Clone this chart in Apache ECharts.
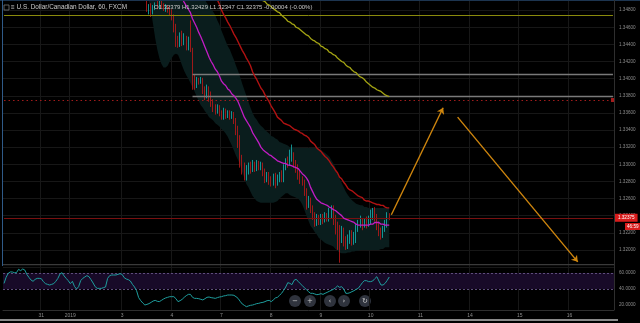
<!DOCTYPE html>
<html><head><meta charset="utf-8">
<script src="https://cdn.jsdelivr.net/npm/echarts@6/dist/echarts.min.js"></script>
<style>html,body{margin:0;padding:0;background:#000;}#c{width:640px;height:323px;}</style>
</head><body><div id="c"></div>
<script>
// ---------- data ----------
const dayLabels = ['28', '31', '2019', '3', '4', '7', '8', '9', '10', '11', '14', '15', '16'];
const daySlots  = [18, 14, 25, 24, 24, 24, 24, 24, 24, 24, 24, 24, 22];

const candleStart = 69;   // [open, close, low, high]
const candles = [
[1.3489,1.3480,1.3478,1.3492],[1.3480,1.3485,1.3475,1.3487],[1.3485,1.3478,1.3472,1.3488],[1.3478,1.3482,1.3475,1.3486],
[1.3482,1.3486,1.3480,1.3489],[1.3486,1.3484,1.3481,1.3491],[1.3484,1.3487,1.3481,1.3492],[1.3487,1.3485,1.3482,1.3493],
[1.3485,1.3481,1.3479,1.3488],[1.3481,1.3484,1.3478,1.3487],[1.3484,1.3480,1.3477,1.3486],[1.3480,1.3478,1.3474,1.3484],
[1.3478,1.3473,1.3468,1.3481],[1.3473,1.3459,1.3454,1.3475],[1.3459,1.3445,1.3437,1.3464],[1.3445,1.3440,1.3436,1.3450],
[1.3440,1.3450,1.3437,1.3454],[1.3450,1.3443,1.3438,1.3456],[1.3443,1.3447,1.3439,1.3453],[1.3447,1.3438,1.3433,1.3450],
[1.3438,1.3445,1.3433,1.3449],[1.3445,1.3433,1.3431,1.3468],[1.3433,1.3401,1.3387,1.3436],[1.3401,1.3393,1.3387,1.3405],
[1.3393,1.3398,1.3389,1.3402],[1.3398,1.3396,1.3393,1.3401],[1.3396,1.3398,1.3394,1.3402],[1.3398,1.3387,1.3382,1.3401],
[1.3387,1.3381,1.3375,1.3391],[1.3381,1.3389,1.3377,1.3393],[1.3389,1.3380,1.3373,1.3391],[1.3380,1.3373,1.3367,1.3385],
[1.3373,1.3367,1.3361,1.3376],[1.3367,1.3361,1.3358,1.3370],[1.3361,1.3366,1.3359,1.3370],[1.3366,1.3360,1.3356,1.3369],
[1.3360,1.3355,1.3352,1.3363],[1.3355,1.3361,1.3352,1.3366],[1.3361,1.3358,1.3353,1.3365],[1.3358,1.3360,1.3354,1.3363],
[1.3360,1.3356,1.3352,1.3363],[1.3356,1.3359,1.3353,1.3362],[1.3359,1.3352,1.3347,1.3361],[1.3352,1.3340,1.3334,1.3354],
[1.3340,1.3328,1.3319,1.3345],[1.3328,1.3305,1.3296,1.3334],[1.3305,1.3293,1.3288,1.3311],[1.3293,1.3284,1.3281,1.3302],
[1.3284,1.3291,1.3281,1.3299],[1.3291,1.3296,1.3288,1.3302],[1.3296,1.3293,1.3289,1.3303],[1.3293,1.3298,1.3291,1.3305],
[1.3298,1.3296,1.3291,1.3303],[1.3296,1.3300,1.3292,1.3305],[1.3300,1.3297,1.3293,1.3304],[1.3297,1.3299,1.3293,1.3303],
[1.3299,1.3291,1.3286,1.3302],[1.3291,1.3284,1.3278,1.3295],[1.3284,1.3288,1.3279,1.3291],[1.3288,1.3282,1.3276,1.3291],
[1.3282,1.3279,1.3274,1.3286],[1.3279,1.3285,1.3275,1.3289],[1.3285,1.3279,1.3272,1.3290],[1.3279,1.3284,1.3275,1.3288],
[1.3284,1.3288,1.3279,1.3291],[1.3288,1.3284,1.3279,1.3293],[1.3284,1.3296,1.3279,1.3300],[1.3296,1.3303,1.3293,1.3307],
[1.3303,1.3302,1.3296,1.3309],[1.3302,1.3307,1.3298,1.3317],[1.3307,1.3311,1.3303,1.3323],[1.3311,1.3299,1.3296,1.3314],
[1.3299,1.3296,1.3290,1.3305],[1.3296,1.3288,1.3282,1.3300],[1.3288,1.3282,1.3277,1.3293],[1.3282,1.3278,1.3275,1.3286],
[1.3278,1.3268,1.3263,1.3282],[1.3268,1.3252,1.3247,1.3272],[1.3252,1.3258,1.3249,1.3263],[1.3258,1.3249,1.3243,1.3261],
[1.3249,1.3241,1.3235,1.3252],[1.3241,1.3233,1.3227,1.3244],[1.3233,1.3237,1.3228,1.3242],[1.3237,1.3234,1.3229,1.3241],
[1.3234,1.3239,1.3229,1.3242],[1.3239,1.3235,1.3230,1.3242],[1.3235,1.3240,1.3232,1.3244],[1.3240,1.3237,1.3233,1.3243],
[1.3237,1.3243,1.3233,1.3249],[1.3243,1.3249,1.3237,1.3252],[1.3249,1.3235,1.3229,1.3252],[1.3235,1.3226,1.3218,1.3241],
[1.3226,1.3218,1.3200,1.3233],[1.3218,1.3214,1.3185,1.3229],[1.3214,1.3223,1.3208,1.3228],[1.3223,1.3212,1.3204,1.3226],
[1.3212,1.3206,1.3200,1.3216],[1.3206,1.3212,1.3201,1.3218],[1.3212,1.3219,1.3207,1.3223],[1.3219,1.3209,1.3205,1.3223],
[1.3209,1.3216,1.3206,1.3221],[1.3216,1.3226,1.3208,1.3230],[1.3226,1.3229,1.3221,1.3235],[1.3229,1.3233,1.3226,1.3240],
[1.3233,1.3228,1.3223,1.3237],[1.3228,1.3233,1.3226,1.3237],[1.3233,1.3229,1.3225,1.3239],[1.3229,1.3234,1.3227,1.3240],
[1.3234,1.3240,1.3230,1.3247],[1.3240,1.3244,1.3235,1.3249],[1.3244,1.3237,1.3233,1.3250],[1.3237,1.3228,1.3223,1.3242],
[1.3228,1.3221,1.3216,1.3233],[1.3221,1.3218,1.3212,1.3226],[1.3218,1.3223,1.3214,1.3228],[1.3223,1.3230,1.3221,1.3235],
[1.3230,1.3240,1.3226,1.3244],[1.32379,1.32375,1.32347,1.32429]
];

const maFastStart = 85;
const maFast = [1.3499,1.3494,1.3489,1.3485,1.3481,1.3477,1.3470,1.3465,1.3460,1.3454,1.3449,1.3443,1.3437,1.3431,1.3425,
1.3420,1.3416,1.3411,1.3408,1.3403,1.3397,1.3394,1.3392,1.3388,1.3386,1.3382,1.3380,1.3377,1.3373,1.3367,1.3361,1.3355,
1.3351,1.3347,1.3343,1.3337,1.3333,1.3329,1.3325,1.3320,1.3317,1.3315,1.3313,1.3311,1.3310,1.3308,1.3306,1.3304,1.3303,
1.3302,1.3301,1.3301,1.3299,1.3299,1.3298,1.3297,1.3296,1.3295,1.3292,1.3289,1.3287,1.3284,1.3280,1.3273,1.3268,1.3263,
1.3259,1.3257,1.3255,1.3254,1.3253,1.3252,1.3250,1.3249,1.3247,1.3246,1.3244,1.3242,1.3240,1.3237,1.3236,1.3235,1.3234,
1.3233,1.3232,1.3230,1.3229,1.3229,1.3229,1.3229,1.3229,1.3229,1.3230,1.3230,1.3232,1.3232,1.3232,1.3230,1.3230,1.3229,
1.3229,1.3229];

const maMidStart = 102;
const maMid = [1.3497,1.3492,1.3487,1.3480,1.3475,1.3471,1.3466,1.3462,1.3457,1.3452,1.3448,1.3443,1.3438,1.3433,1.3429,
1.3424,1.3420,1.3415,1.3408,1.3403,1.3399,1.3394,1.3389,1.3386,1.3381,1.3377,1.3373,1.3368,1.3364,1.3360,1.3355,1.3353,
1.3351,1.3348,1.3347,1.3346,1.3345,1.3343,1.3341,1.3340,1.3339,1.3337,1.3336,1.3334,1.3333,1.3331,1.3327,1.3325,1.3323,
1.3319,1.3317,1.3315,1.3312,1.3309,1.3307,1.3304,1.3300,1.3297,1.3293,1.3290,1.3285,1.3283,1.3279,1.3276,1.3272,1.3270,
1.3269,1.3267,1.3265,1.3263,1.3262,1.3261,1.3258,1.3257,1.3257,1.3256,1.3255,1.3254,1.3253,1.3253,1.3252,1.3252,1.3250,
1.3249,1.3249];

const maSlowStart = 124;
const maSlow = [1.3493,1.3491,1.3490,1.3487,1.3486,1.3484,1.3482,1.3480,1.3478,1.3477,1.3474,1.3472,1.3470,1.3467,1.3466,
1.3464,1.3463,1.3460,1.3459,1.3457,1.3455,1.3453,1.3451,1.3450,1.3447,1.3445,1.3444,1.3442,1.3441,1.3438,1.3437,1.3435,
1.3434,1.3431,1.3430,1.3428,1.3427,1.3424,1.3422,1.3420,1.3419,1.3416,1.3414,1.3413,1.3410,1.3408,1.3407,1.3404,1.3402,
1.3401,1.3399,1.3396,1.3394,1.3392,1.3390,1.3389,1.3387,1.3386,1.3385,1.3383,1.3381,1.3380,1.3379];

const bandStart = 70;
const bandUpper = [1.3539,1.3539,1.3539,1.3538,1.3536,1.3535,1.3534,1.3533,1.3532,1.3531,1.3529,1.3528,1.3527,1.3527,
1.3527,1.3526,1.3525,1.3524,1.3521,1.3519,1.3515,1.3512,1.3508,1.3506,1.3504,1.3500,1.3497,1.3492,1.3488,1.3485,1.3481,
1.3478,1.3474,1.3468,1.3463,1.3456,1.3450,1.3444,1.3438,1.3434,1.3428,1.3422,1.3415,1.3409,1.3402,1.3394,1.3387,1.3380,
1.3373,1.3366,1.3360,1.3355,1.3352,1.3348,1.3345,1.3343,1.3340,1.3338,1.3336,1.3333,1.3332,1.3330,1.3329,1.3326,1.3325,
1.3324,1.3323,1.3322,1.3320,1.3320,1.3320,1.3319,1.3319,1.3319,1.3319,1.3319,1.3319,1.3319,1.3319,1.3319,1.3319,1.3319,
1.3318,1.3317,1.3315,1.3313,1.3311,1.3309,1.3305,1.3301,1.3296,1.3290,1.3284,1.3278,1.3273,1.3268,1.3264,1.3261,1.3258,
1.3256,1.3254,1.3253,1.3252,1.3252,1.3250,1.3250,1.3249,1.3249,1.3249,1.3249,1.3249,1.3249,1.3249,1.3249,1.3249,1.3249,1.3249];
const bandLower = [1.3492,1.3478,1.3463,1.3447,1.3434,1.3424,1.3417,1.3413,1.3413,1.3415,1.3420,1.3424,1.3428,1.3429,
1.3428,1.3422,1.3415,1.3409,1.3404,1.3400,1.3395,1.3390,1.3385,1.3379,1.3374,1.3369,1.3366,1.3362,1.3359,1.3355,1.3353,
1.3351,1.3348,1.3346,1.3344,1.3341,1.3339,1.3336,1.3332,1.3327,1.3322,1.3316,1.3310,1.3305,1.3299,1.3291,1.3284,1.3277,
1.3273,1.3268,1.3263,1.3260,1.3257,1.3256,1.3255,1.3255,1.3255,1.3255,1.3255,1.3255,1.3255,1.3256,1.3257,1.3260,1.3262,
1.3264,1.3266,1.3266,1.3264,1.3263,1.3262,1.3261,1.3260,1.3257,1.3253,1.3247,1.3240,1.3234,1.3228,1.3225,1.3221,1.3218,
1.3214,1.3212,1.3210,1.3208,1.3207,1.3206,1.3205,1.3204,1.3201,1.3199,1.3197,1.3196,1.3196,1.3196,1.3197,1.3197,1.3198,
1.3198,1.3199,1.3199,1.3200,1.3200,1.3200,1.3200,1.3200,1.3200,1.3200,1.3200,1.3200,1.3200,1.3201,1.3201,1.3203,1.3203,1.3203];

const rsi = [47,54.6,59.6,61.3,61.3,60.4,60.4,64.6,62.9,65, 63.8,58.3,54.6,51.3,49.6,52,53.3,53.3,52.9,49.2,
46.7,45.8,45,45.8,46.7,49.6,53.3,58.8,60.4,56.3, 53.3,50.4,46.7,49.6,43.3,40,42.9,50.4,53.3,55,
56.7,55.4,51.7,47.5,42.9,40.8,40.8,40.8,41.7,42.5, 53.3,56.7,57.5,57.5,57.5,58.3,59.2,58.3,54.2,52.5,
51.7,50,45.8,42.5,37.9,29.2,25.4,22.5,20,20.8, 21.7,23.3,25,25.8,24.6,24.2,25.8,27.5,28.8,29.6,
30.4,30.4,30.4,27.9,24.2,25.4,27.1,29.6,31.7,33.3, 33.3,29.6,28.3,28.3,27.9,27.1,26.3,27.9,29.6,30,
29.2,28.8,28.3,29.2,30,30.4,31.3,31.7,32.5,32.5, 32.5,32.1,30.4,28.3,24.6,21.3,19.6,17.9,18.8,19.6,
20,20.8,21.7,22.1,22.9,23.3,24.2,25.4,25.8,24.2, 26.3,28.8,29.6,32.1,34.6,38.3,42.5,47.9,47.1,45.4,
50.8,52.1,49.6,46.7,44.2,41.7,39.2,36.7,34.6,34.6, 33.8,32.9,33.3,34.2,33.3,34.6,35.8,37.1,38.3,39.6,
41.3,43.8,42.1,42.9,40,34.6,34.6,35.4,36.7,37.9, 39.6,40.8,44.2,47.9,50.4,50.4,49.2,49.2,50,52.9,
55.4,50,45,45,47.1,50.8,55];

const rsiBand = [40, 60];
const rsiTicks = [20, 40, 60];
const yellowLevel = 1.3474;
const zoneTop = 1.3405, zoneBottom = 1.3380, zoneStart = 91;
const redLevel = 1.3375;
const arrowUp = [[187, 1.3241], [212, 1.3366]];
const arrowDown = [[219, 1.3355], [277, 1.3186]];
const title = 'U.S. Dollar/Canadian Dollar, 60, FXCM';
const countdown = '46:59';

// ---------- build ----------
const categories = [];
const dayStarts = new Set();
dayLabels.forEach((d, k) => {
  if (k > 0) dayStarts.add(categories.length);
  for (let h = 0; h < daySlots[k]; h++) categories.push(d + '|' + h);
});
const lastIdx = categories.length - 1;
const pad = (start, arr, empty) => Array(start).fill(empty).concat(arr);
const candleData = pad(candleStart, candles, ['-', '-', '-', '-']);
const lastC = candles[candles.length - 1];
const lastPrice = lastC[1];
const chg = lastC[1] - lastC[0];
const ohlcText = 'O' + lastC[0].toFixed(5) + ' H' + lastC[3].toFixed(5) + ' L' + lastC[2].toFixed(5) +
  ' C' + lastC[1].toFixed(5) + ' ' + chg.toFixed(5) + ' (' + (chg / lastC[0] * 100).toFixed(2) + '%)';

const FONT = 'Liberation Sans';
const gridColor = '#171717';
const orange = '#cf860e';
const dayInterval = (idx) => dayStarts.has(idx);
const hLine = (v, from, style, endExtra) =>
  [{ coord: [from, v], lineStyle: style }, Object.assign({ coord: [lastIdx, v] }, endExtra || {})];

const chart = echarts.init(document.getElementById('c'), null, { renderer: 'canvas' });
const btn = (x, txt) => ({
  type: 'group', x: x, y: 301, children: [
    { type: 'circle', shape: { cx: 0, cy: 0, r: 6 }, style: { fill: 'rgba(52,56,68,0.9)' } },
    { type: 'text', style: { text: txt, x: 0, y: 0, fill: '#d0d0d0', font: '7px DejaVu Sans', align: 'center', verticalAlign: 'middle' } }
  ]
});

chart.setOption({
  backgroundColor: '#000',
  animation: false,
  grid: [
    { left: 3, right: 26, top: -7, height: 274, outerBoundsMode: 'none', containLabel: false },
    { left: 3, right: 26, top: 265, height: 45, outerBoundsMode: 'none', containLabel: false }
  ],
  xAxis: [
    { type: 'category', gridIndex: 0, data: categories, boundaryGap: true,
      axisLine: { show: false }, axisTick: { show: false }, axisLabel: { show: false },
      splitLine: { show: true, interval: dayInterval, lineStyle: { color: gridColor, width: 1 } } },
    { type: 'category', gridIndex: 1, data: categories, boundaryGap: true,
      axisLine: { show: true, lineStyle: { color: '#2e2e2e' } }, axisTick: { show: false },
      axisLabel: { show: true, interval: dayInterval, color: '#8c8c8c', fontSize: 5, fontFamily: FONT, margin: 3,
        formatter: (v) => v.split('|')[0] },
      splitLine: { show: true, interval: dayInterval, lineStyle: { color: gridColor, width: 1 } } }
  ],
  yAxis: [
    { type: 'value', gridIndex: 0, position: 'right', min: 1.318, max: 1.350, interval: 0.002,
      axisLine: { show: false }, axisTick: { show: false },
      axisLabel: { color: '#8c8c8c', fontSize: 4.6, fontFamily: FONT, margin: 5, showMinLabel: false, showMaxLabel: false,
        formatter: (v) => v.toFixed(5) },
      splitLine: { lineStyle: { color: gridColor, width: 1 } } },
    { type: 'value', gridIndex: 1, position: 'right', min: 13.75, max: 70,
      axisLine: { show: false }, axisTick: { show: false },
      axisLabel: { color: '#8c8c8c', fontSize: 4.6, fontFamily: FONT, margin: 5, customValues: rsiTicks,
        formatter: (v) => v.toFixed(4) },
      splitLine: { show: false } }
  ],
  series: [
    { name: 'bbBase', type: 'line', xAxisIndex: 0, yAxisIndex: 0, stack: 'bb', symbol: 'none', silent: true,
      data: pad(bandStart, bandLower, '-'), lineStyle: { opacity: 0 }, z: 1 },
    { name: 'bbFill', type: 'line', xAxisIndex: 0, yAxisIndex: 0, stack: 'bb', symbol: 'none', silent: true,
      data: pad(bandStart, bandUpper.map((u, k) => +(u - bandLower[k]).toFixed(4)), '-'),
      lineStyle: { opacity: 0 }, areaStyle: { color: '#0a1d1d', opacity: 1 }, z: 1 },
    { name: 'price', type: 'candlestick', xAxisIndex: 0, yAxisIndex: 0, data: candleData, clip: true,
      barMaxWidth: 2, z: 4,
      itemStyle: { color: '#17b4b4', color0: '#c41818', borderColor: '#17b4b4', borderColor0: '#c41818', borderWidth: 0.8 } },
    { name: 'levels', type: 'line', xAxisIndex: 0, yAxisIndex: 0, data: [], z: 3,
      markLine: {
        silent: true, symbol: ['none', 'none'], animation: false, precision: 6,
        label: { show: false },
        data: [
          hLine(yellowLevel, 0, { color: '#8a8a0c', width: 1, type: 'solid' }),
          hLine(zoneTop, zoneStart, { color: '#7a7a7a', width: 1.4, type: 'solid' }),
          hLine(zoneBottom, zoneStart, { color: '#7a7a7a', width: 1.4, type: 'solid' }),
          hLine(redLevel, 0, { color: '#a41c1c', width: 1, type: [1.5, 3] },
            { symbol: 'rect', symbolSize: 4, itemStyle: { color: '#d02a2a' } }),
          hLine(lastPrice, 0, { color: '#781010', width: 1, type: 'solid' },
            { label: { show: true, position: 'end', distance: 2, formatter: () => lastPrice.toFixed(5), color: '#fff',
              backgroundColor: '#d81c1c', fontSize: 4.6, fontFamily: FONT, padding: [2, 3, 1, 3] } }),
          [{ coord: arrowUp[0], lineStyle: { color: orange, width: 1.4, type: 'solid' } },
           { coord: arrowUp[1], symbol: 'arrow', symbolSize: 6, itemStyle: { color: orange } }],
          [{ coord: arrowDown[0], lineStyle: { color: orange, width: 1.4, type: 'solid' } },
           { coord: arrowDown[1], symbol: 'arrow', symbolSize: 6, itemStyle: { color: orange } }]
        ]
      } },
    { name: 'maFast', type: 'line', xAxisIndex: 0, yAxisIndex: 0, symbol: 'none', data: pad(maFastStart, maFast, '-'),
      lineStyle: { color: '#c21cc4', width: 1.3 }, z: 5 },
    { name: 'maMid', type: 'line', xAxisIndex: 0, yAxisIndex: 0, symbol: 'none', data: pad(maMidStart, maMid, '-'),
      lineStyle: { color: '#b01212', width: 1.4 }, z: 5 },
    { name: 'maSlow', type: 'line', xAxisIndex: 0, yAxisIndex: 0, symbol: 'none', data: pad(maSlowStart, maSlow, '-'),
      lineStyle: { color: '#a3a313', width: 1.3 }, z: 5 },
    { name: 'rsi', type: 'line', xAxisIndex: 1, yAxisIndex: 1, symbol: 'none', data: rsi,
      lineStyle: { color: '#1e9e9e', width: 1 }, z: 5,
      markArea: { silent: true, itemStyle: { color: '#180a28' }, data: [[{ yAxis: rsiBand[0] }, { yAxis: rsiBand[1] }]] },
      markLine: { silent: true, symbol: ['none', 'none'], label: { show: false },
        lineStyle: { color: '#5e4d7c', width: 1, type: [2, 2] },
        data: [{ yAxis: rsiBand[0] }, { yAxis: rsiBand[1] }] } }
  ],
  graphic: [
    { type: 'rect', shape: { x: 0, y: 0, width: 640, height: 1 }, style: { fill: '#1d3550' }, z: 10 },
    { type: 'rect', shape: { x: 2, y: 0, width: 1, height: 266 }, style: { fill: '#2f5a88' }, z: 10 },
    { type: 'rect', shape: { x: 3, y: 264, width: 611, height: 1.2 }, style: { fill: '#3a3a3a' }, z: 10 },
    { type: 'rect', shape: { x: 614, y: 0, width: 1, height: 310 }, style: { fill: '#2e2e2e' }, z: 10 },
    { type: 'rect', shape: { x: 0, y: 319, width: 618, height: 2 }, style: { fill: '#8a8a8a' }, z: 10 },
    { type: 'rect', shape: { x: 4, y: 5, width: 5, height: 5 }, style: { fill: 'none', stroke: '#777', lineWidth: 0.8 }, z: 10 },
    { type: 'text', style: { text: '\u2261 ' + title, x: 11, y: 4.5, fill: '#c9c9c9', font: '6.4px ' + FONT }, z: 10 },
    { type: 'text', style: { text: ohlcText, x: 154, y: 4.5, fill: '#c9c9c9', font: '6px ' + FONT }, z: 10 },
    { type: 'rect', shape: { x: 625, y: 223, width: 15, height: 7 }, style: { fill: '#d81c1c' }, z: 10 },
    { type: 'text', style: { text: countdown, x: 627, y: 224.5, fill: '#fff', font: '4.6px ' + FONT }, z: 11 },
    btn(295, '\u2212'), btn(310, '+'), btn(330, '\u2039'), btn(344, '\u203A'), btn(365, '\u21BB')
  ]
});
</script>
</body></html>
